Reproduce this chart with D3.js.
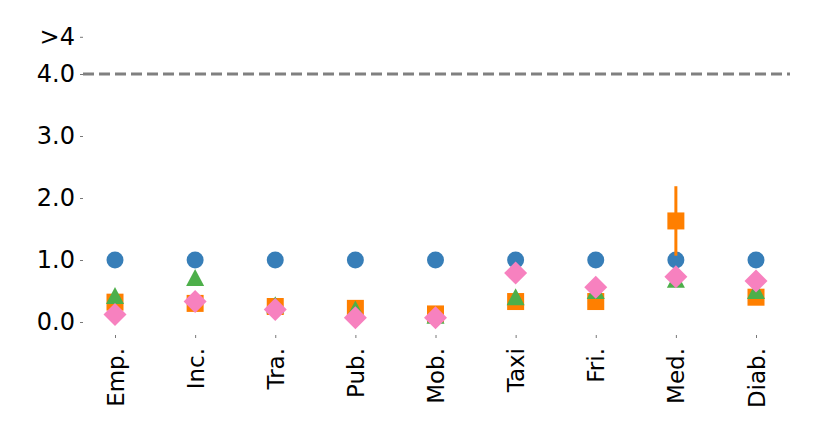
<!DOCTYPE html>
<html>
<head>
<meta charset="utf-8">
<script src="https://cdn.jsdelivr.net/npm/d3@7"></script>
<style>
  body { margin: 0; background: #fff; }
  text { font-family: "DejaVu Sans", sans-serif; }
</style>
</head>
<body>
<div id="chart"></div>
<script>
var categories = ["Emp.", "Inc.", "Tra.", "Pub.", "Mob.", "Taxi", "Fri.", "Med.", "Diab."];
var blueVals   = [1, 1, 1, 1, 1, 1, 1, 1, 1];
var orangeVals = [0.32, 0.30, 0.25, 0.22, 0.13, 0.33, 0.33, 1.63, 0.40];
var orangeErr  = [0, 0, 0, 0, 0, 0, 0, 0.56, 0];
var greenVals  = [0.42, 0.71, 0.27, 0.20, 0.10, 0.40, 0.50, 0.68, 0.50];
var pinkVals   = [0.12, 0.33, 0.20, 0.07, 0.07, 0.79, 0.56, 0.73, 0.66];
var yTickVals  = [0, 1, 2, 3, 4, 4.6];
var yTickLabels = ["0.0", "1.0", "2.0", "3.0", "4.0", ">4"];
var capValue = 4;

var width = 830, height = 447;

var svg = d3.select("#chart").append("svg")
  .attr("width", width).attr("height", height);

var x = d3.scalePoint().domain(categories).range([115, 756]);
var y = d3.scaleLinear().domain([0, 4]).range([322, 74]);

// y axis (ticks only, no spine)
var yAxis = svg.append("g")
  .attr("transform", "translate(83,0)")
  .call(d3.axisLeft(y).tickValues(yTickVals)
    .tickFormat(function(d, i){ return yTickLabels[i]; })
    .tickSize(3).tickPadding(5));
yAxis.select(".domain").remove();
yAxis.selectAll("line").attr("stroke", "#555").attr("stroke-width", 0.8);
yAxis.selectAll("text").attr("font-size", 24).attr("fill", "#000")
  .attr("font-family", "DejaVu Sans, sans-serif");

// x axis
var xAxis = svg.append("g")
  .attr("transform", "translate(0,335)")
  .call(d3.axisBottom(x).tickSize(3).tickPadding(5));
xAxis.select(".domain").remove();
xAxis.selectAll("line").attr("stroke", "#555").attr("stroke-width", 0.8);
xAxis.selectAll("text")
  .attr("font-size", 23).attr("fill", "#000")
  .attr("font-family", "DejaVu Sans, sans-serif")
  .attr("transform", "rotate(-90)")
  .attr("text-anchor", "end")
  .attr("x", -13).attr("y", 0).attr("dy", "0.35em");

// cap line
svg.append("line")
  .attr("x1", 83).attr("x2", 790)
  .attr("y1", y(capValue)).attr("y2", y(capValue))
  .attr("stroke", "#808080").attr("stroke-width", 3)
  .attr("stroke-dasharray", "11,5");

var idx = d3.range(categories.length);

// blue circles
svg.append("g").selectAll("circle").data(idx).enter().append("circle")
  .attr("cx", function(i){ return x(categories[i]); })
  .attr("cy", function(i){ return y(blueVals[i]); })
  .attr("r", 8.5)
  .attr("fill", "#377eb8");

// orange error bars + squares
svg.append("g").selectAll("line").data(idx.filter(function(i){ return orangeErr[i] > 0; }))
  .enter().append("line")
  .attr("x1", function(i){ return x(categories[i]); })
  .attr("x2", function(i){ return x(categories[i]); })
  .attr("y1", function(i){ return y(orangeVals[i] - orangeErr[i]); })
  .attr("y2", function(i){ return y(orangeVals[i] + orangeErr[i]); })
  .attr("stroke", "#ff7f00").attr("stroke-width", 3);

var sq = 17;
svg.append("g").selectAll("rect").data(idx).enter().append("rect")
  .attr("x", function(i){ return x(categories[i]) - sq / 2; })
  .attr("y", function(i){ return y(orangeVals[i]) - sq / 2; })
  .attr("width", sq).attr("height", sq)
  .attr("fill", "#ff7f00");

// green triangles
svg.append("g").selectAll("path").data(idx).enter().append("path")
  .attr("transform", function(i){ return "translate(" + x(categories[i]) + "," + y(greenVals[i]) + ")"; })
  .attr("d", "M0,-9 L9,8 L-9,8 Z")
  .attr("fill", "#4daf4a");

// pink diamonds
svg.append("g").selectAll("path").data(idx).enter().append("path")
  .attr("transform", function(i){ return "translate(" + x(categories[i]) + "," + y(pinkVals[i]) + ")"; })
  .attr("d", "M0,-11.5 L11.5,0 L0,11.5 L-11.5,0 Z")
  .attr("fill", "#f781bf");
</script>
</body>
</html>
